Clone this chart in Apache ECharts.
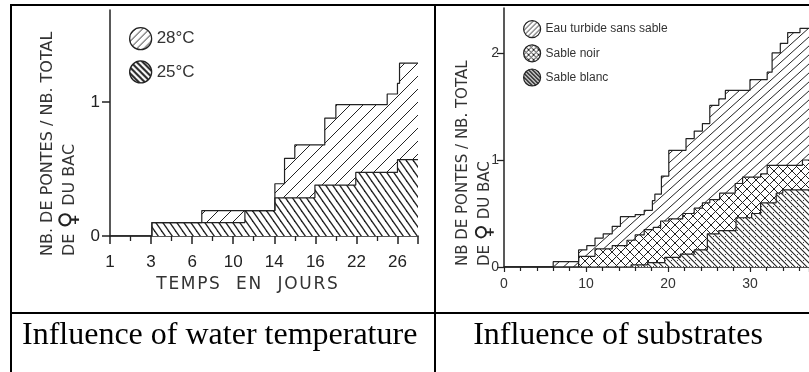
<!DOCTYPE html>
<html><head><meta charset="utf-8">
<script src="https://cdn.jsdelivr.net/npm/echarts@6/dist/echarts.min.js"></script>
<style>html,body{margin:0;padding:0;background:#fff}#c{width:809px;height:372px}</style>
</head><body><div id="c"></div>
<script>
// ---- Left panel: influence of water temperature ----
const tempTickLabels = ['1', '3', '6', '10', '14', '16', '22', '26'];
const temp28 = [[0, 0], [2.04, 0.1], [4.47, 0.19], [8.03, 0.39], [8.5, 0.58], [9.0, 0.68], [10.46, 0.88], [11.0, 0.98], [13.5, 1.06], [14.0, 1.14], [14.1, 1.29], [15, 1.29]];
const temp25 = [[0, 0], [2.04, 0.1], [6.57, 0.19], [8.03, 0.285], [9.98, 0.38], [11.97, 0.475], [14.0, 0.57], [15, 0.57]];
// ---- Right panel: influence of substrates ----
const eauTurbide = [[0, 0], [6.0, 0.05], [9.1, 0.16], [10.1, 0.2], [11.1, 0.27], [12.1, 0.31], [13.2, 0.38], [14.2, 0.47], [16.0, 0.49], [17.1, 0.53], [18.1, 0.62], [18.4, 0.68], [19.2, 0.85], [20.1, 1.09], [22.2, 1.2], [23.2, 1.27], [24.2, 1.34], [25.1, 1.51], [26.2, 1.57], [27.0, 1.65], [30.0, 1.75], [32.1, 1.82], [32.7, 2.0], [33.7, 2.09], [34.6, 2.19], [36.1, 2.23], [37.3, 2.23]];
const sableNoir = [[0, 0], [9.1, 0.1], [11.1, 0.17], [13.2, 0.2], [15.0, 0.25], [16.0, 0.3], [17.1, 0.35], [18.2, 0.37], [19.1, 0.43], [20.1, 0.45], [21.8, 0.5], [23.2, 0.55], [24.2, 0.6], [25.1, 0.63], [26.3, 0.69], [28.2, 0.78], [29.1, 0.84], [31.3, 0.87], [32.1, 0.95], [36.4, 1.0], [37.3, 1.0]];
const sableBlanc = [[0, 0], [15.5, 0.02], [17.5, 0.04], [19.6, 0.09], [21.5, 0.12], [23.2, 0.16], [24.8, 0.31], [26.2, 0.34], [28.3, 0.46], [30.2, 0.5], [31.3, 0.6], [33.2, 0.69], [34.0, 0.72], [37.3, 0.73]];
const substrateTicks = [0, 10, 20, 30];

function hatch(w, h, o) {
  const c = document.createElement('canvas');
  c.width = w; c.height = h;
  const g = c.getContext('2d');
  g.fillStyle = '#fff'; g.fillRect(0, 0, w, h);
  g.strokeStyle = o.color || '#222'; g.lineWidth = o.lw || 1;
  for (let k = -1; k <= 1; k++) {
    if (o.fwd) { g.beginPath(); g.moveTo(k * w - w * 0.2, h * 1.2); g.lineTo(k * w + w * 1.2, -h * 0.2); g.stroke(); }
    if (o.back) { g.beginPath(); g.moveTo(k * w - w * 0.2, -h * 0.2); g.lineTo(k * w + w * 1.2, h * 1.2); g.stroke(); }
  }
  if (o.dots) { g.fillStyle = '#444'; g.fillRect(Math.round(w * 0.75), Math.round(h * 0.25), 1, 1); }
  return { image: c, repeat: 'repeat' };
}
const P28 = hatch(13, 13, { fwd: true, lw: 1 });
const P25 = hatch(7, 10, { back: true, lw: 1.3 });
const PEau = hatch(10, 9, { fwd: true, lw: 1 });
const PNoir = hatch(9, 9, { fwd: true, back: true, lw: 1 });
const PBlanc = hatch(6, 6, { back: true, lw: 1.1, dots: true });
const L28 = hatch(7, 7, { fwd: true, lw: 1 });
const L25 = hatch(6, 6, { back: true, lw: 2 });
const LEau = hatch(5, 5, { fwd: true, lw: 1 });
const LNoir = hatch(5, 5, { fwd: true, back: true, lw: 1 });
const LBlanc = hatch(4, 4, { back: true, lw: 1.6 });

const ink = '#222';
const tickFont = 'Liberation Sans';
const sp = s => s.split('').join('\u200A');
function stepSeries(name, data, pat, xi) {
  return {
    name, type: 'line', step: 'end', data, xAxisIndex: xi, yAxisIndex: xi,
    symbol: 'none', lineStyle: { color: ink, width: 1.2 },
    itemStyle: { color: ink },
    areaStyle: { color: pat, opacity: 1 }, animation: false
  };
}
const chart = echarts.init(document.getElementById('c'), null, { renderer: 'canvas' });
chart.setOption({
  animation: false,
  grid: [
    { left: 110, top: 10, width: 308, height: 226 },
    { left: 504, top: 8, width: 305, height: 259 }
  ],
  xAxis: [
    {
      gridIndex: 0, type: 'value', min: 0, max: 15, interval: 2,
      axisLine: { lineStyle: { color: ink, width: 1.5 } },
      axisTick: { length: 8, lineStyle: { color: ink, width: 1.5 } },
      minorTick: { show: true, splitNumber: 2, length: 5, lineStyle: { color: ink, width: 1.3 } },
      splitLine: { show: false },
      axisLabel: { margin: 18, color: ink, fontSize: 17, fontFamily: tickFont, formatter: v => tempTickLabels[v / 2] || '' }
    },
    {
      gridIndex: 1, type: 'value', min: 0, max: 37.2, interval: 10,
      axisLine: { lineStyle: { color: ink, width: 1.5 } },
      axisTick: { length: 5, lineStyle: { color: ink, width: 1.2 } },
      minorTick: { show: true, splitNumber: 5, length: 4, lineStyle: { color: ink, width: 1.2 } },
      splitLine: { show: false },
      axisLabel: { margin: 10, color: '#333', fontSize: 14, fontFamily: tickFont, showMaxLabel: false, formatter: v => substrateTicks.includes(v) ? String(v) : '' }
    }
  ],
  yAxis: [
    {
      gridIndex: 0, type: 'value', min: 0, max: 1.687, interval: 1,
      axisLine: { show: true, lineStyle: { color: ink, width: 1.5 } },
      axisTick: { show: true, length: 8, lineStyle: { color: ink, width: 1.5 } },
      splitLine: { show: false },
      axisLabel: { margin: 10, color: ink, fontSize: 17, fontFamily: tickFont, showMaxLabel: false, formatter: v => (v === 0 || v === 1) ? String(v) : '' }
    },
    {
      gridIndex: 1, type: 'value', min: 0, max: 2.42, interval: 1,
      axisLine: { show: true, lineStyle: { color: ink, width: 1.5 } },
      axisTick: { show: true, length: 7, lineStyle: { color: ink, width: 1.3 } },
      splitLine: { show: false },
      axisLabel: { margin: 5, color: '#333', fontSize: 14, fontFamily: tickFont, showMaxLabel: false, formatter: v => [0, 1, 2].includes(v) ? String(v) : '' }
    }
  ],
  legend: [
    {
      orient: 'vertical', left: 124, top: 22, icon: 'circle', itemWidth: 22, itemHeight: 22, itemGap: 10, itemTextGap: 6, selectedMode: false,
      textStyle: { fontSize: 17, color: '#333', fontFamily: tickFont },
      data: [
        { name: '28°C', itemStyle: { color: L28, borderColor: ink, borderWidth: 1.3 } },
        { name: '25°C', itemStyle: { color: L25, borderColor: ink, borderWidth: 1.3 } }
      ]
    },
    {
      orient: 'vertical', left: 518, top: 15, icon: 'circle', itemWidth: 17, itemHeight: 17, itemGap: 6, itemTextGap: 9, selectedMode: false,
      textStyle: { fontSize: 12, color: '#333', fontFamily: tickFont },
      data: [
        { name: 'Eau turbide sans sable', itemStyle: { color: LEau, borderColor: ink, borderWidth: 1.2 } },
        { name: 'Sable noir', itemStyle: { color: LNoir, borderColor: ink, borderWidth: 1.2 } },
        { name: 'Sable blanc', itemStyle: { color: LBlanc, borderColor: ink, borderWidth: 1.2 } }
      ]
    }
  ],
  series: [
    stepSeries('28°C', temp28, P28, 0),
    stepSeries('25°C', temp25, P25, 0),
    stepSeries('Eau turbide sans sable', eauTurbide, PEau, 1),
    stepSeries('Sable noir', sableNoir, PNoir, 1),
    stepSeries('Sable blanc', sableBlanc, PBlanc, 1)
  ],
  graphic: [
    { type: 'line', shape: { x1: 10, y1: 5, x2: 809, y2: 5 }, style: { stroke: '#000', lineWidth: 2 }, z: 100 },
    { type: 'line', shape: { x1: 11, y1: 4, x2: 11, y2: 372 }, style: { stroke: '#000', lineWidth: 2 }, z: 100 },
    { type: 'line', shape: { x1: 435, y1: 4, x2: 435, y2: 372 }, style: { stroke: '#000', lineWidth: 2 }, z: 100 },
    { type: 'line', shape: { x1: 10, y1: 313, x2: 809, y2: 313 }, style: { stroke: '#000', lineWidth: 2 }, z: 100 },
    { type: 'rect', shape: { x: 420, y: 6, width: 14, height: 306 }, style: { fill: '#fff' }, z: 90 },
    { type: 'text', x: 48, y: 256, rotation: Math.PI / 2, style: { text: 'NB. DE PONTES / NB. TOTAL', font: '16px "DejaVu Sans"', fill: '#333', align: 'left', verticalAlign: 'middle' } },
    { type: 'text', x: 70, y: 256, rotation: Math.PI / 2, style: { text: 'DE {f|♀} DU BAC', font: '16px "DejaVu Sans"', fill: '#333', align: 'left', verticalAlign: 'middle', rich: { f: { font: 'bold 24px "DejaVu Sans"', fill: '#222' } } } },
    { type: 'text', x: 247, y: 285, style: { text: sp('TEMPS') + '   ' + sp('EN') + '   ' + sp('JOURS'), font: '17px "DejaVu Sans"', fill: '#333', align: 'center', verticalAlign: 'middle' } },
    { type: 'text', x: 463, y: 266, rotation: Math.PI / 2, style: { text: 'NB DE PONTES / NB. TOTAL', font: '15px "DejaVu Sans"', fill: '#333', align: 'left', verticalAlign: 'middle' } },
    { type: 'text', x: 485, y: 266, rotation: Math.PI / 2, style: { text: 'DE {f|♀} DU BAC', font: '15px "DejaVu Sans"', fill: '#333', align: 'left', verticalAlign: 'middle', rich: { f: { font: 'bold 22px "DejaVu Sans"', fill: '#222' } } } },
    { type: 'text', x: 22, y: 336, style: { text: 'Influence of water temperature', font: '32px "Liberation Serif"', fill: '#000', align: 'left', verticalAlign: 'middle' } },
    { type: 'text', x: 618, y: 336, style: { text: 'Influence of substrates', font: '32px "Liberation Serif"', fill: '#000', align: 'center', verticalAlign: 'middle' } }
  ]
});
</script></body></html>
